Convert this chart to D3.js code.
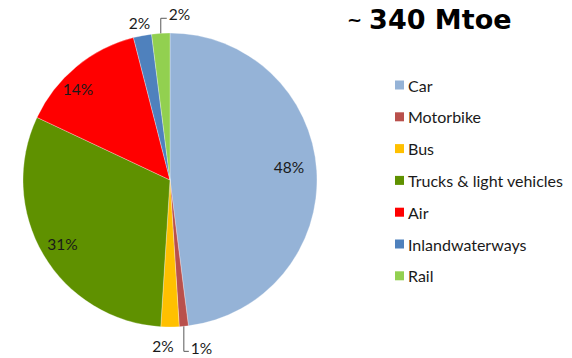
<!DOCTYPE html>
<html>
<head>
<meta charset="utf-8">
<script src="https://cdn.jsdelivr.net/npm/d3@7"></script>
<style>
  html, body { margin: 0; padding: 0; background: #fff; }
  svg { display: block; }
</style>
</head>
<body>
<svg id="chart" width="572" height="358"></svg>
<script>
// Transport energy consumption by mode (share of total)
const categories = ["Car", "Motorbike", "Bus", "Trucks & light vehicles", "Air", "Inlandwaterways", "Rail"];
const shares = [48, 1, 2, 31, 14, 2, 2];
const colors = ["#95b3d7", "#b9504c", "#ffc000", "#5f9100", "#ff0000", "#4f81bd", "#92d050"];
const totalLabel = "340 Mtoe";

const svg = d3.select("#chart");
const cx = 170, cy = 180, R = 147;
const pctFont = "Lato, 'Open Sans', sans-serif";
const pctSize = 15.5;

const data = categories.map((c, i) => ({ name: c, value: shares[i], color: colors[i] }));

const pie = d3.pie().sort(null).value(d => d.value).startAngle(0).endAngle(2 * Math.PI);
const arcs = pie(data);
const arc = d3.arc().innerRadius(0).outerRadius(R);

const g = svg.append("g").attr("transform", `translate(${cx},${cy})`);

g.selectAll("path.slice")
  .data(arcs)
  .join("path")
  .attr("class", "slice")
  .attr("d", arc)
  .attr("fill", d => d.data.color)
  .attr("stroke", "#fff")
  .attr("stroke-width", 0.3);

// polar helper: angle measured clockwise from 12 o'clock
const polar = (a, r) => [r * Math.sin(a), -r * Math.cos(a)];
const mid = d => (d.startAngle + d.endAngle) / 2;

// inside labels for the large slices
const inside = arcs.filter(d => d.data.value >= 10);
const insideR = { "Car": 0.815, "Trucks & light vehicles": 0.85, "Air": 0.88 };
const insideShift = { "Car": -0.05, "Trucks & light vehicles": 0, "Air": -0.1 };
g.selectAll("text.inside")
  .data(inside)
  .join("text")
  .attr("class", "inside")
  .attr("x", d => polar(mid(d) + insideShift[d.data.name], R * insideR[d.data.name])[0])
  .attr("y", d => polar(mid(d) + insideShift[d.data.name], R * insideR[d.data.name])[1])
  .attr("text-anchor", "middle")
  .attr("dominant-baseline", "central")
  .attr("font-family", pctFont)
  .attr("font-size", pctSize)
  .attr("fill", "#1a1a1a")
  .text(d => d.data.value + "%");

// outside labels for the thin slices
const byName = Object.fromEntries(arcs.map(d => [d.data.name, d]));
const leader = d3.line();

function outside(name, opts) {
  const d = byName[name];
  const [px, py] = polar(mid(d), R);
  const label = g.append("text")
    .attr("dominant-baseline", "central")
    .attr("font-family", pctFont)
    .attr("font-size", pctSize)
    .attr("fill", "#1a1a1a")
    .text(d.data.value + "%");
  if (opts.leader) {
    const p0 = [px, py];
    const p1 = [px, py + opts.dy];
    const p2 = [px + opts.dx, py + opts.dy];
    g.append("path")
      .attr("d", leader([p0, p1, p2]))
      .attr("fill", "none")
      .attr("stroke", "#595959")
      .attr("stroke-width", 1);
    label.attr("x", p2[0] + 2).attr("y", p2[1] + opts.ty).attr("text-anchor", "start");
  } else {
    label.attr("x", px + opts.dx).attr("y", py + opts.dy).attr("text-anchor", "middle");
  }
}

outside("Inlandwaterways", { dx: -3, dy: -13 });
outside("Rail", { leader: true, dx: 6, dy: -15, ty: -4 });
outside("Bus", { dx: -7, dy: 19 });
outside("Motorbike", { leader: true, dx: 5, dy: 25, ty: -3 });

// legend
const legend = svg.append("g").attr("transform", "translate(395,85)");
const item = legend.selectAll("g.item")
  .data(data)
  .join("g")
  .attr("class", "item")
  .attr("transform", (d, i) => `translate(0,${i * 31.8})`);
item.append("rect")
  .attr("x", 0).attr("y", -4.5)
  .attr("width", 9).attr("height", 9)
  .attr("fill", d => d.color);
item.append("text")
  .attr("x", 13).attr("y", 0)
  .attr("dominant-baseline", "central")
  .attr("font-family", pctFont)
  .attr("font-size", 16)
  .attr("fill", "#1a1a1a")
  .text(d => d.name);

// total
const title = svg.append("text")
  .attr("x", 347).attr("y", 29)
  .attr("font-family", "'DejaVu Sans', Verdana, sans-serif")
  .attr("font-weight", "bold")
  .attr("fill", "#000");
title.append("tspan").attr("font-size", 18).attr("dy", -3).text("~");
title.append("tspan").attr("font-size", 27).attr("dx", 7).attr("dy", 3).text(totalLabel);
</script>
</body>
</html>
